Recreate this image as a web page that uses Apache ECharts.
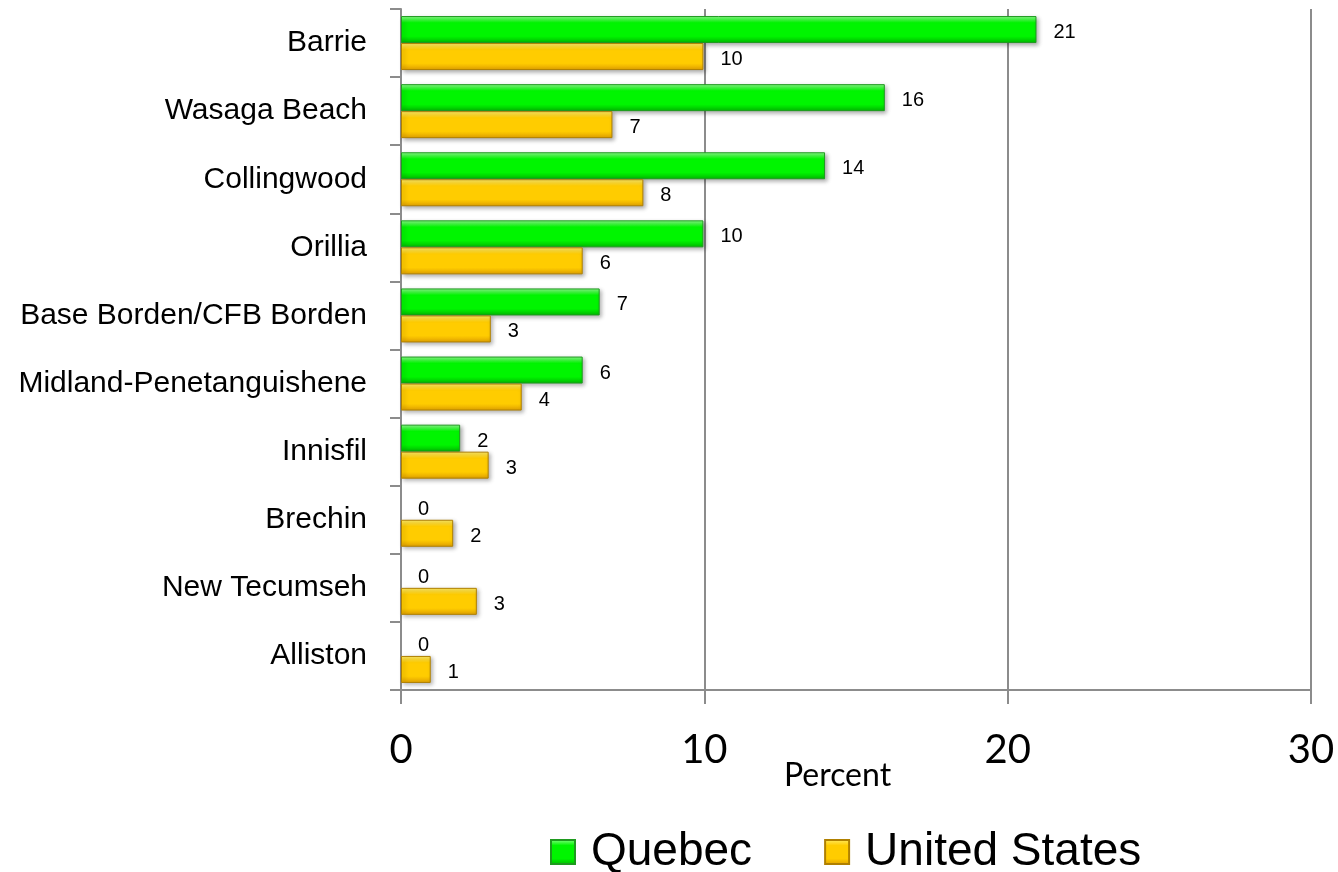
<!DOCTYPE html>
<html>
<head>
<meta charset="utf-8">
<script src="https://cdn.jsdelivr.net/npm/echarts@6/dist/echarts.min.js"></script>
<style>
html,body{margin:0;padding:0;background:#fff;}
#chart{width:1338px;height:872px;}
</style>
</head>
<body>
<div id="chart"></div>
<script>
const categories = ['Barrie','Wasaga Beach','Collingwood','Orillia','Base Borden/CFB Borden','Midland-Penetanguishene','Innisfil','Brechin','New Tecumseh','Alliston'];
const quebecValues = [20.95, 15.95, 13.98, 9.97, 6.55, 5.99, 1.95, 0, 0, 0];
const usValues = [9.97, 6.97, 7.99, 5.99, 2.96, 3.98, 2.89, 1.72, 2.5, 0.98];
const seriesNames = ['Quebec', 'United States'];

const ARIAL = '"Liberation Sans", Arial, sans-serif';
const chart = echarts.init(document.getElementById('chart'));

function grad(top, mid, bot){
  return new echarts.graphic.LinearGradient(0,0,0,1,[
    {offset:0,color:top},{offset:0.25,color:mid},{offset:0.75,color:mid},{offset:1,color:bot}
  ]);
}
function toData(arr){
  return arr.map(v => v === 0 ? {value:v, itemStyle:{borderWidth:0, shadowBlur:0, shadowOffsetX:0, shadowOffsetY:0}} : v);
}
const labelCfg = {
  show:true, position:'right', distance:17, offset:[0,3],
  fontFamily:ARIAL, fontSize:20, color:'#000',
  formatter: p => Math.round(p.value)
};

chart.setOption({
  animation:false,
  backgroundColor:'#fff',
  grid:{left:401, right:27, top:9, bottom:182, containLabel:false},
  xAxis:{
    type:'value', min:0, max:30, interval:10,
    name:'Percent', nameLocation:'middle', nameGap:70, nameMoveOverlap:false,
    nameTextStyle:{fontFamily:'Lato', fontSize:32, color:'#000', padding:[0,37,0,0]},
    axisLine:{show:true, lineStyle:{color:'#8c8c8c', width:2}},
    axisTick:{show:true, length:14, lineStyle:{color:'#8c8c8c', width:2}},
    axisLabel:{fontFamily:'Lato', fontSize:40, color:'#000', margin:40},
    splitLine:{show:true, lineStyle:{color:'#8c8c8c', width:2}}
  },
  yAxis:{
    type:'category', data:categories, inverse:true,
    axisLine:{show:true, lineStyle:{color:'#8c8c8c', width:2}},
    axisTick:{show:true, length:11, lineStyle:{color:'#8c8c8c', width:2}},
    axisLabel:{fontFamily:ARIAL, fontSize:30, color:'#000', margin:34}
  },
  legend:{
    left:545, top:824, itemWidth:24, itemHeight:24, itemGap:72,
    icon:'rect',
    textStyle:{fontFamily:ARIAL, fontSize:46, color:'#000', padding:[0,0,0,11]},
    data:seriesNames
  },
  series:[
    {
      name:seriesNames[0], type:'bar', data:toData(quebecValues), barWidth:27, barGap:'0%',
      itemStyle:{color:grad('#8dff8d','#00f500','#00b800'), borderColor:'#1f9a1f', borderWidth:1,
        shadowColor:'rgba(0,0,0,0.3)', shadowBlur:4, shadowOffsetX:2, shadowOffsetY:2},
      label:labelCfg
    },
    {
      name:seriesNames[1], type:'bar', data:toData(usValues), barWidth:27, barGap:'0%',
      itemStyle:{color:grad('#ffec6a','#ffcc00','#e0a000'), borderColor:'#b08000', borderWidth:1,
        shadowColor:'rgba(0,0,0,0.3)', shadowBlur:4, shadowOffsetX:2, shadowOffsetY:2},
      label:labelCfg
    }
  ]
});
</script>
</body>
</html>
